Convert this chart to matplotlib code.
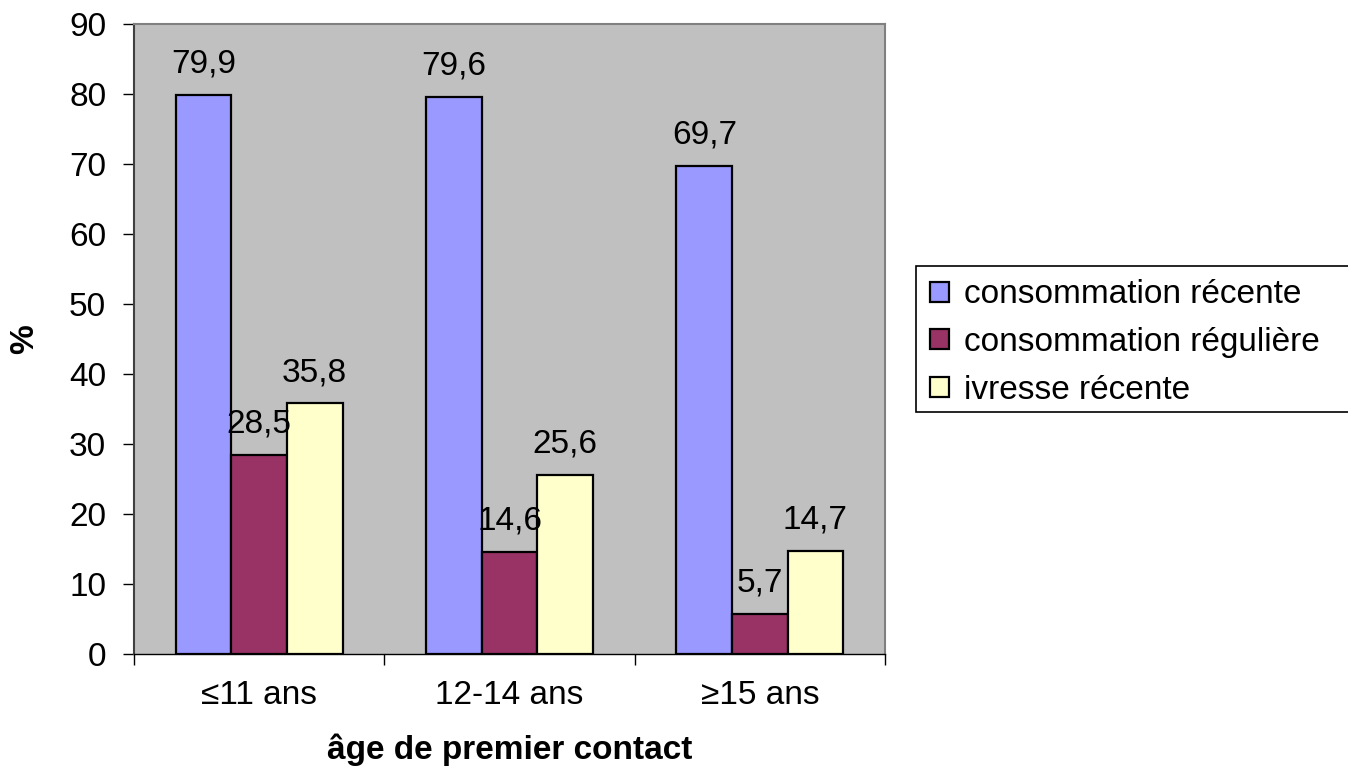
import matplotlib
matplotlib.use("Agg")
import matplotlib.pyplot as plt
from matplotlib.patches import Rectangle
import numpy as np

plt.rcParams['font.family'] = ['Liberation Sans', 'DejaVu Sans']

categories = ["≤11 ans", "12-14 ans", "≥15 ans"]
series_names = ["consommation récente", "consommation régulière", "ivresse récente"]
conso_recente = [79.9, 79.6, 69.7]
conso_reguliere = [28.5, 14.6, 5.7]
ivresse_recente = [35.8, 25.6, 14.7]
labels_recente = ["79,9", "79,6", "69,7"]
labels_reguliere = ["28,5", "14,6", "5,7"]
labels_ivresse = ["35,8", "25,6", "14,7"]
yticks = [0, 10, 20, 30, 40, 50, 60, 70, 80, 90]

colors = ["#9999FF", "#993366", "#FFFFCC"]
FS = 24

fig = plt.figure(figsize=(13.48, 7.67), dpi=100)
ax = fig.add_axes([134/1348, 1-654/767, (885-134)/1348, (654-24)/767])
ax.set_facecolor("#C0C0C0")

x = np.arange(len(categories))
w = 0.222
series = [conso_recente, conso_reguliere, ivresse_recente]
labs = [labels_recente, labels_reguliere, labels_ivresse]
handles = []
for i, (vals, lab) in enumerate(zip(series, labs)):
    pos = x + (i - 1) * w
    b = ax.bar(pos, vals, width=w, color=colors[i], edgecolor="black",
               linewidth=1.6, label=series_names[i], zorder=3)
    handles.append(b)
    for px, v, t in zip(pos, vals, lab):
        ax.annotate(t, (px, v), xytext=(0, 16), textcoords="offset points",
                    ha="center", va="baseline", fontsize=FS, zorder=4)

ax.set_xlim(-0.5, 2.5)
ax.set_ylim(0, 90)
ax.set_yticks(yticks)
ax.set_yticklabels([str(t) for t in yticks], fontsize=FS)
ax.tick_params(axis="y", direction="out", length=8, width=1, pad=12)
ax.set_xticks(x)
ax.set_xticklabels(categories, fontsize=FS)
ax.tick_params(axis="x", which="major", length=0, pad=19)
ax.set_xticks([-0.5, 0.5, 1.5, 2.5], minor=True)
ax.tick_params(axis="x", which="minor", direction="out", length=8, width=1)

for s in ["top", "right"]:
    ax.spines[s].set_color("#808080")
    ax.spines[s].set_linewidth(1.5)
ax.spines["left"].set_color("#404040")
ax.spines["left"].set_linewidth(1.5)
ax.spines["bottom"].set_color("black")
ax.spines["bottom"].set_linewidth(1)

ax.set_xlabel("âge de premier contact", fontsize=FS, fontweight="bold", labelpad=16)
ax.set_ylabel("%", fontsize=FS, fontweight="bold")
ax.yaxis.set_label_coords(-(134 - 25) / (885 - 134), 0.5)
ax.yaxis.label.set_verticalalignment("center")

fig.patches.append(Rectangle((916/1348, 1-412/767), (1360-916)/1348, (412-266)/767,
                             transform=fig.transFigure, facecolor="white",
                             edgecolor="black", linewidth=1.2, zorder=1))
leg = fig.legend(handles=handles, labels=series_names, loc="upper left",
                 bbox_to_anchor=(917/1348, 1-266/767), frameon=False,
                 fontsize=FS, handlelength=0.55, handleheight=0.55,
                 handletextpad=0.45, labelspacing=0.5, borderaxespad=0)
for h in leg.legend_handles:
    h.set_linewidth(1.6)

fig.savefig("out.png", dpi=100)
